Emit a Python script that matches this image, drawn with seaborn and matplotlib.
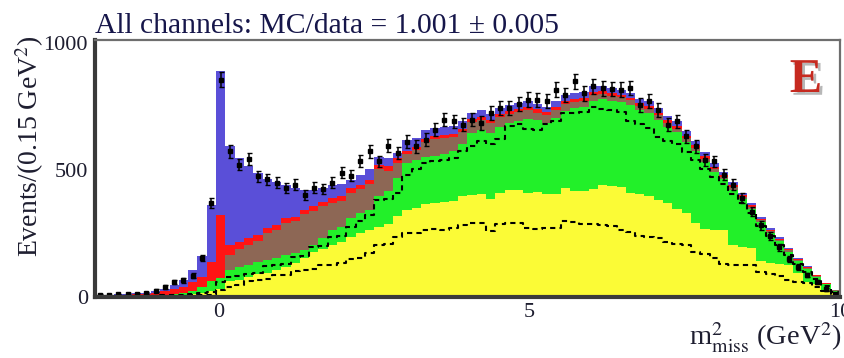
import numpy as np
import pandas as pd
import matplotlib
matplotlib.use("Agg")
import matplotlib.pyplot as plt
import matplotlib.patheffects as pe
from matplotlib.ticker import MultipleLocator
import seaborn as sns

# Binning of m^2_miss: 80 bins of 0.15 GeV^2 from -2 to 10
x_min, x_max, n_bins = -2.0, 10.0, 80

# Stacked MC contributions, cumulative heights (events per bin), bottom-up order:
# yellow < green < brown < red < blue(total)
total_top = [8, 9, 10, 12, 14, 17, 24, 33, 47, 67, 105, 160, 362, 887,
             594, 547, 513, 487, 463, 450, 441, 430, 422, 422, 428, 440, 445,
             461, 480, 505, 552, 545, 566, 618, 626, 657, 664, 668, 672, 690,
             725, 733, 720, 743, 756, 762, 769, 760, 748, 769, 795, 802, 805, 828,
             830, 822, 815, 802, 780, 769, 743, 712, 690, 651, 612, 570, 525,
             493, 450, 410, 370, 315, 272, 235, 192, 155, 120, 88, 56, 28]
red_top = [5, 6, 7, 8, 10, 12, 16, 22, 30, 40, 60, 80, 138, 323,
           205, 218, 231, 244, 270, 283, 310, 316, 343, 356, 375, 388, 395,
           428, 441, 461, 520, 513, 545, 575, 590, 620, 632, 638, 642, 660,
           701, 709, 697, 719, 732, 738, 745, 737, 726, 746, 772, 779, 782, 805,
           810, 802, 795, 783, 761, 750, 724, 694, 672, 634, 596, 554, 512,
           481, 439, 400, 361, 307, 265, 229, 187, 151, 116, 85, 54, 27]
brown_top = [3, 3, 4, 4, 5, 6, 7, 9, 11, 15, 24, 38, 62, 75,
             165, 188, 206, 222, 252, 265, 292, 298, 325, 338, 357, 370, 377,
             410, 423, 443, 502, 496, 528, 563, 578, 608, 620, 626, 630, 648,
             689, 697, 685, 707, 720, 726, 733, 725, 714, 734, 760, 767, 770, 793,
             799, 791, 785, 773, 751, 740, 714, 684, 662, 624, 586, 544, 504,
             473, 431, 393, 354, 301, 259, 224, 183, 147, 113, 82, 52, 26]
green_top = [3, 3, 4, 4, 5, 6, 7, 9, 11, 15, 24, 38, 62, 75,
             106, 119, 126, 139, 146, 152, 165, 172, 185, 205, 231, 264, 277,
             310, 330, 343, 395, 415, 467, 525, 540, 550, 555, 562, 572, 600,
             644, 657, 645, 669, 685, 691, 701, 695, 684, 704, 732, 741, 745, 769,
             777, 769, 765, 753, 733, 722, 697, 668, 647, 610, 573, 532, 493,
             463, 422, 385, 346, 294, 253, 219, 178, 143, 110, 79, 50, 25]
yellow_top = [1, 1, 2, 2, 2, 3, 3, 4, 5, 7, 10, 15, 25, 30,
              62, 66, 80, 90, 95, 106, 119, 132, 152, 175, 190, 205, 218,
              235, 250, 262, 277, 285, 320, 340, 349, 365, 370, 375, 378, 395,
              402, 405, 385, 408, 421, 421, 410, 412, 405, 405, 428, 418, 415, 425,
              440, 435, 432, 410, 405, 395, 382, 370, 345, 330, 290, 268, 264,
              262, 205, 198, 193, 140, 135, 130, 125, 93, 58, 52, 28, 15]

# Dashed sub-component outlines
upper_dashed = [3, 3, 3, 4, 4, 4, 5, 6, 7, 9, 12, 15, 20, 60,
                78, 82, 92, 95, 122, 126, 130, 158, 162, 196, 200, 236, 240,
                275, 300, 322, 380, 385, 410, 480, 505, 525, 535, 540, 548, 575,
                595, 615, 600, 620, 672, 678, 660, 657, 680, 692, 722, 725, 726, 748,
                740, 735, 728, 690, 680, 665, 630, 615, 600, 570, 540, 505, 470,
                445, 405, 370, 330, 280, 240, 205, 165, 130, 98, 70, 44, 21]
lower_dashed = [2, 2, 2, 3, 3, 3, 3, 4, 4, 5, 6, 7, 8, 28,
                40, 47, 62, 67, 70, 85, 88, 104, 106, 110, 124, 127, 132,
                150, 155, 172, 205, 210, 237, 250, 252, 262, 266, 262, 270, 283,
                290, 292, 258, 288, 290, 291, 272, 268, 270, 272, 298, 295, 288, 287,
                283, 280, 262, 255, 240, 236, 232, 215, 210, 205, 178, 170, 155,
                128, 126, 126, 124, 98, 92, 82, 66, 60, 54, 40, 24, 12]

# Observed events per bin
data_counts = [8, 7, 10, 12, 11, 14, 25, 39, 59, 65, 84, 153, 370, 854,
               572, 520, 542, 474, 463, 449, 428, 441, 401, 430, 425, 449, 489,
               476, 535, 572, 533, 595, 567, 611, 592, 618, 657, 697, 690, 677,
               697, 684, 723, 743, 743, 760, 776, 775, 770, 815, 795, 848, 800, 828,
               820, 818, 815, 821, 756, 769, 736, 677, 690, 631, 592, 539, 533,
               480, 441, 390, 335, 282, 240, 195, 150, 118, 86, 58, 30, 10]

title_text = "All channels: MC/data = 1.001 \u00b1 0.005"
panel_tag = "E"

sns.set_style("white")
plt.rcParams["font.family"] = ["Liberation Serif", "DejaVu Serif"]
plt.rcParams["mathtext.fontset"] = "stix"

bin_width = (x_max - x_min) / n_bins
centers = x_min + bin_width * (np.arange(n_bins) + 0.5)

fig = plt.figure(figsize=(8.44, 3.58), dpi=100)
ax = fig.add_axes([95 / 844, 1 - 297 / 358, 745 / 844, 257 / 358])


def hist_layer(heights, **kws):
    frame = pd.DataFrame({"m2miss": centers, "events": heights})
    sns.histplot(data=frame, x="m2miss", weights="events", bins=n_bins,
                 binrange=(x_min, x_max), element="step", ax=ax, **kws)


layers = [
    (total_top, "#5a4fd8"),
    (red_top, "#ff1414"),
    (brown_top, "#8d6755"),
    (green_top, "#22f029"),
    (yellow_top, "#fbfb36"),
]
for heights, colour in layers:
    hist_layer(heights, fill=True, color=colour, alpha=1.0, linewidth=0)

for heights in (upper_dashed, lower_dashed):
    hist_layer(heights, fill=False, color="black", linewidth=1.5,
               linestyle=(0, (2.5, 2.0)))

counts = np.asarray(data_counts, dtype=float)
ax.errorbar(centers, counts, yerr=np.sqrt(counts), fmt="s", color="black",
            ms=3.2, elinewidth=1.1, capsize=1.8, capthick=1.0, zorder=5)

ax.set_xlim(x_min, x_max)
ax.set_ylim(0, 1010)
ax.set_xlabel("")
ax.set_ylabel("")

ax.xaxis.set_major_locator(MultipleLocator(5))
ax.xaxis.set_minor_locator(MultipleLocator(1))
ax.yaxis.set_major_locator(MultipleLocator(500))
ax.yaxis.set_minor_locator(MultipleLocator(100))
ax.tick_params(axis="both", which="both", direction="in", top=False, right=False,
               colors="#333333", labelcolor="#1e1e30", labelsize=16)
ax.tick_params(axis="y", which="major", length=20, width=2.2, pad=5)
ax.tick_params(axis="y", which="minor", length=10, width=1.6)
ax.tick_params(axis="x", which="major", length=9, width=1.8, pad=4)
ax.tick_params(axis="x", which="minor", length=5, width=1.4)

for side in ("left", "bottom"):
    ax.spines[side].set_linewidth(3.0)
    ax.spines[side].set_color("#3a3a3a")
for side in ("top", "right"):
    ax.spines[side].set_linewidth(1.6)
    ax.spines[side].set_color("#6e6e6e")
for sp in ax.spines.values():
    sp.set_zorder(10)

fig.text(95 / 844, 1 - 33 / 358, title_text, ha="left", va="baseline",
         fontsize=21.3, color="#16164a")
fig.text(30 / 844, 1 - 146 / 358, r"Events/(0.15 GeV$^{2}$)", rotation=90,
         ha="center", va="center", fontsize=20, color="#1e1e30")
fig.text(842 / 844, 1 - 346 / 358, r"m$^{2}_{\rm miss}$ (GeV$^{2}$)",
         ha="right", va="baseline", fontsize=20.5, color="#1e1e30")
fig.text(806 / 844, 1 - 92 / 358, panel_tag, ha="center", va="baseline",
         fontsize=35, fontweight="bold", color="#c62a20",
         path_effects=[pe.withSimplePatchShadow(offset=(2, -2), shadow_rgbFace="#888888", alpha=0.6)])

fig.savefig("out.png", dpi=100, facecolor="white")
